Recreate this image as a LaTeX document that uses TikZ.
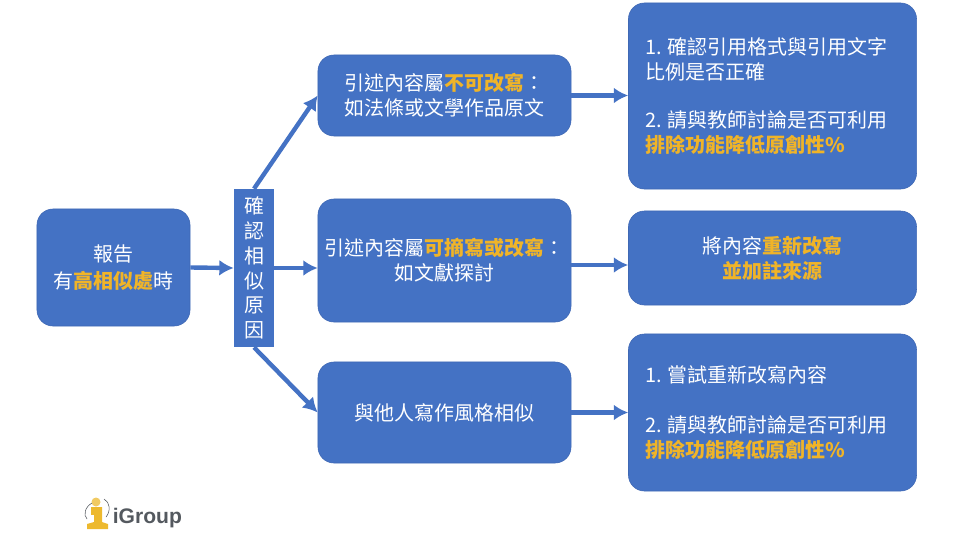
\documentclass[tikz,border=0pt]{standalone}
\usepackage{fontspec}
\setmainfont{Noto Sans CJK TC}
\newfontfamily\logofont{Liberation Sans}
\usetikzlibrary{arrows.meta,positioning,calc}
\definecolor{boxblue}{HTML}{4472C4}
\definecolor{boxline}{HTML}{3F68B4}
\definecolor{hilite}{HTML}{F0B428}
\definecolor{logogold}{HTML}{EDB92E}
\definecolor{logogray}{HTML}{54595F}
\newcommand{\hl}[1]{{\color{hilite}\bfseries #1}}
\begin{document}
\begin{tikzpicture}[x=0.025cm,y=-0.025cm,>=Latex,every node/.style={font=\fontsize{14.2}{17.7}\selectfont}]
  \tikzset{
    flowbox/.style={rectangle,rounded corners=0.4cm,draw=boxline,fill=boxblue,text=white,align=center,inner sep=0pt},
    leftbox/.style={flowbox,align=left,text width=6.35cm,minimum width=7.2cm},
    link/.style={-{Latex[length=0.36cm,width=0.4cm]},line width=0.11cm,draw=boxblue}
  }
  \useasboundingbox (0,0) rectangle (960,540);
  \node[flowbox,minimum width=3.825cm,minimum height=2.925cm] (report) at (113.5,267.5)
    {\raisebox{-1.2pt}{報告}\\[1.5pt]\raisebox{-1pt}{有\hl{高相似處}時}};
  \node[rectangle,fill=boxblue,text=white,align=center,inner sep=0pt,minimum width=1cm,minimum height=3.95cm] (check) at (254,268)
    {確\\認\\相\\似\\原\\因};
  \node[flowbox,minimum width=6.325cm,minimum height=2.025cm] (quote) at (444.5,95.5)
    {引述內容屬\hl{不可改寫}：\\如法條或文學作品原文};
  \node[flowbox,minimum width=6.325cm,minimum height=3.075cm] (para) at (444.5,260.5)
    {引述內容屬\hl{可摘寫或改寫}：\\如文獻探討};
  \node[flowbox,minimum width=6.325cm,minimum height=2.525cm] (style) at (444.5,412.5)
    {與他人寫作風格相似};
  \node[leftbox,minimum height=4.65cm] (fixa) at (772.5,96)
    {\raisebox{-1pt}{1.\hspace{4pt}確認引用格式與引用文字}\\\raisebox{-1pt}{比例是否正確}\\[17.7pt]2.\hspace{4pt}請與教師討論是否可利用\\\hl{排除功能降低原創性\%}};
  \node[flowbox,minimum width=7.2cm,minimum height=2.35cm] (fixb) at (772.5,258)
    {將內容\hl{重新改寫}\\\hl{並加註來源}};
  \node[leftbox,minimum height=3.925cm] (fixc) at (772.5,412.5)
    {1.\hspace{4pt}嘗試重新改寫內容\\[17.7pt]2.\hspace{4pt}請與教師討論是否可利用\\\hl{排除功能降低原創性\%}};

  \coordinate (paraout) at (571,265);
  \draw[link] (report.east)--(check.west);
  \draw[link] (check.east)--(check.east -| para.west);
  \draw[link] (check.north)--(quote.west);
  \draw[link] (check.south)--(style.west);
  \draw[link] (quote.east)--(quote.east -| fixa.west);
  \draw[link] (paraout)--(paraout -| fixb.west);
  \draw[link] (style.east)--(style.east -| fixc.west);

  % logo
  \fill[logogold] (87,529)--(108,529)--(108,524)--(102,522)--(102,507)--(94,507)--(94,522)--(87,524)--cycle;
  \fill[logogold] (91,507) rectangle (94,515);
  \fill[logogold!75!white] (96,502) circle (4.5);
  \draw[logogray,line width=0.4pt] (92,503) .. controls (85,507) and (83,515) .. (87,519);
  \draw[logogray,line width=0.4pt] (104,499) .. controls (110,502) and (111,511) .. (106,517);
  \node[anchor=west,inner sep=0pt,text=logogray,font=\logofont\bfseries\fontsize{15}{15}\selectfont] (brand) at (112.5,518.5) {iGroup};
\end{tikzpicture}
\end{document}
